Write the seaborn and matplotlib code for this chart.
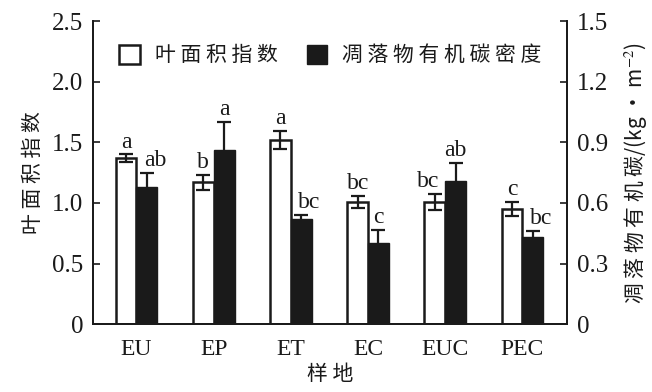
import numpy as np
import pandas as pd
import matplotlib
matplotlib.use("Agg")
import matplotlib.pyplot as plt
from matplotlib.patches import Patch
from matplotlib.transforms import offset_copy
import seaborn as sns

sites = ["EU", "EP", "ET", "EC", "EUC", "PEC"]
lai = [1.37, 1.17, 1.52, 1.01, 1.01, 0.95]
lai_err = [0.03, 0.06, 0.075, 0.05, 0.065, 0.06]
lai_letters = ["a", "b", "a", "bc", "bc", "c"]
soc = [0.68, 0.86, 0.52, 0.40, 0.71, 0.43]
soc_err = [0.07, 0.14, 0.02, 0.065, 0.09, 0.03]
soc_letters = ["ab", "a", "bc", "c", "ab", "bc"]

lai_name = "叶面积指数"
soc_name = "凋落物有机碳密度"

# horizontal nudges (points) so neighbouring significance letters don't collide
lai_nudge = [0, 0, 0, 0, -5, 0]
soc_nudge = [6, 0, 6, 0, 0, 6]


def spaced(s):
    # journal-style letter spacing for CJK labels
    return " ".join(s)


sns.set_theme(style="white")
plt.rcParams["font.family"] = ["Liberation Serif", "Noto Sans CJK SC"]
plt.rcParams["mathtext.fontset"] = "stix"
cjk = ["Noto Sans CJK SC", "DejaVu Sans"]
ink = "#1a1a1a"

df_lai = pd.DataFrame({"site": sites, "var": lai_name, "value": lai})
df_soc = pd.DataFrame({"site": sites, "var": soc_name, "value": soc})
hue_order = [lai_name, soc_name]

fig, ax1 = plt.subplots(figsize=(6.52, 3.92), dpi=100)
fig.subplots_adjust(left=0.143, right=0.870, top=0.946, bottom=0.173)
ax2 = ax1.twinx()

width = 0.54
sns.barplot(data=df_lai, x="site", y="value", hue="var", hue_order=hue_order,
            order=sites, dodge=True, width=width, palette=["white", ink],
            edgecolor=ink, linewidth=1.8, errorbar=None, legend=False, ax=ax1)
sns.barplot(data=df_soc, x="site", y="value", hue="var", hue_order=hue_order,
            order=sites, dodge=True, width=width, palette=["white", ink],
            edgecolor=ink, linewidth=1.0, errorbar=None, legend=False, ax=ax2)


def bar_centers(ax):
    bars = sorted([p for p in ax.patches if p.get_height() > 0], key=lambda p: p.get_x())
    return [p.get_x() + p.get_width() / 2 for p in bars]


x_lai = bar_centers(ax1)
x_soc = bar_centers(ax2)

ax1.errorbar(x_lai, lai, yerr=lai_err, fmt="none", ecolor=ink,
             elinewidth=1.6, capsize=5, capthick=1.6, zorder=5)
ax2.errorbar(x_soc, soc, yerr=soc_err, fmt="none", ecolor=ink,
             elinewidth=1.6, capsize=5, capthick=1.6, zorder=5)

for x, v, e, t, dx in zip(x_lai, lai, lai_err, lai_letters, lai_nudge):
    tr = offset_copy(ax1.transData, fig=fig, x=dx, y=0, units="points")
    ax1.text(x, v + e + 0.015, t, ha="center", va="bottom", fontsize=17,
             color=ink, transform=tr)
for x, v, e, t, dx in zip(x_soc, soc, soc_err, soc_letters, soc_nudge):
    tr = offset_copy(ax2.transData, fig=fig, x=dx, y=0, units="points")
    ax2.text(x, v + e + 0.009, t, ha="center", va="bottom", fontsize=17,
             color=ink, transform=tr)

ax1.set_xlim(-0.56, 5.58)
ax1.set_ylim(0, 2.5)
ax2.set_ylim(0, 1.5)
ax1.set_yticks([0, 0.5, 1.0, 1.5, 2.0, 2.5])
ax1.set_yticklabels(["0", "0.5", "1.0", "1.5", "2.0", "2.5"])
ax2.set_yticks([0, 0.3, 0.6, 0.9, 1.2, 1.5])
ax2.set_yticklabels(["0", "0.3", "0.6", "0.9", "1.2", "1.5"])

for ax in (ax1, ax2):
    ax.spines["top"].set_visible(False)
    for s in ax.spines.values():
        s.set_linewidth(1.3)
        s.set_color(ink)
ax1.tick_params(axis="y", direction="in", length=5, width=1.2, labelsize=18, pad=7, colors=ink)
ax2.tick_params(axis="y", direction="in", length=5, width=1.2, labelsize=18, pad=7, colors=ink)
ax1.tick_params(axis="x", length=0, labelsize=17, pad=11, colors=ink)

ax1.set_xlabel(spaced("样地"), fontsize=15, family=cjk, labelpad=2, color=ink)
ax1.set_ylabel(spaced(lai_name), fontsize=15, family=cjk, labelpad=6, color=ink)
ax2.set_ylabel(spaced("凋落物有机碳") + "/(kg · m$^{-2}$)", fontsize=15, family=cjk,
               labelpad=10, color=ink)

handles = [Patch(facecolor="white", edgecolor=ink, linewidth=1.8, label=spaced(lai_name)),
           Patch(facecolor=ink, edgecolor=ink, label=spaced(soc_name))]
leg = ax1.legend(handles=handles, loc="upper left", bbox_to_anchor=(0.015, 0.985), ncol=2,
                 frameon=False, prop={"family": cjk, "size": 15},
                 handlelength=1.0, handleheight=1.05, handletextpad=0.7, columnspacing=1.4)
for t in leg.get_texts():
    t.set_color(ink)

fig.savefig("out.png", dpi=100)
